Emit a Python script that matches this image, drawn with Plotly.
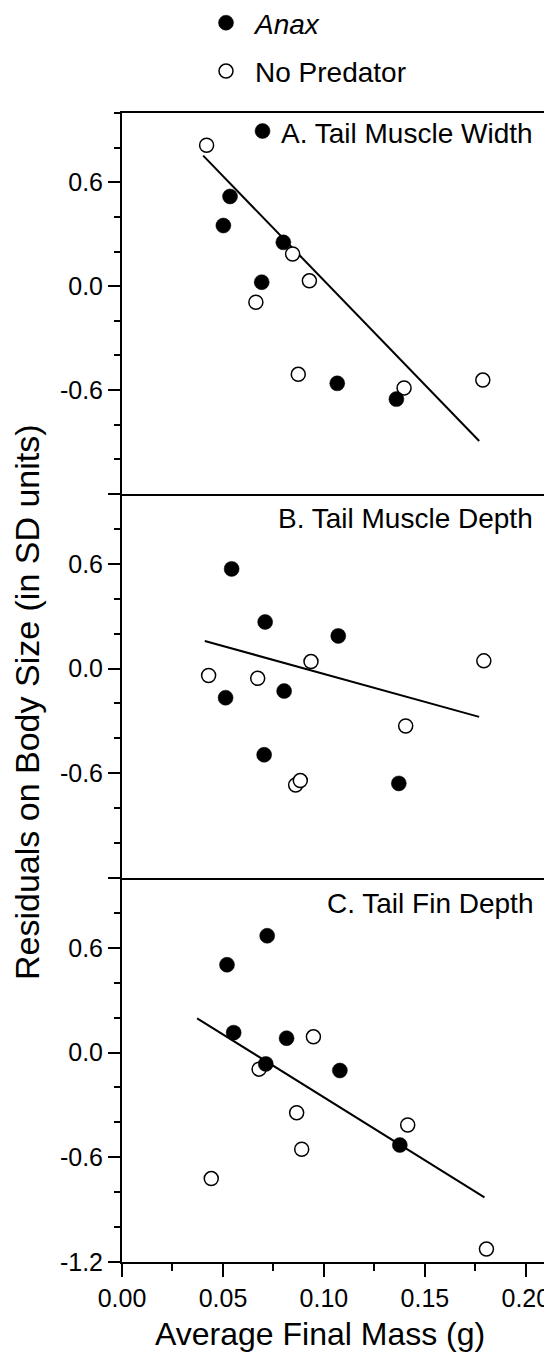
import plotly.graph_objects as go

# ---- data ----
panel_labels = ["A. Tail Muscle Width", "B. Tail Muscle Depth", "C. Tail Fin Depth"]

# Panel A
a_anax_x = [0.0696, 0.0535, 0.0502, 0.0799, 0.0692, 0.1066, 0.1359]
a_anax_y = [0.896, 0.518, 0.350, 0.253, 0.023, -0.561, -0.652]
a_nopred_x = [0.0419, 0.0845, 0.0928, 0.0663, 0.0873, 0.1397, 0.1787]
a_nopred_y = [0.814, 0.186, 0.031, -0.093, -0.509, -0.588, -0.542]
a_fit_x = [0.0402, 0.1769]
a_fit_y = [0.754, -0.894]

# Panel B
b_anax_x = [0.0543, 0.0709, 0.1071, 0.0803, 0.0513, 0.0704, 0.1371]
b_anax_y = [0.571, 0.267, 0.187, -0.129, -0.167, -0.494, -0.658]
b_nopred_x = [0.0429, 0.0672, 0.0936, 0.1792, 0.1405, 0.0860, 0.0883]
b_nopred_y = [-0.040, -0.056, 0.040, 0.044, -0.329, -0.667, -0.642]
b_fit_x = [0.0410, 0.1769]
b_fit_y = [0.158, -0.277]

# Panel C
c_anax_x = [0.0520, 0.0719, 0.0553, 0.0815, 0.0712, 0.1079, 0.1376]
c_anax_y = [0.503, 0.669, 0.114, 0.082, -0.065, -0.103, -0.530]
c_nopred_x = [0.0679, 0.0948, 0.0865, 0.0890, 0.1415, 0.0442, 0.1805]
c_nopred_y = [-0.095, 0.090, -0.345, -0.554, -0.415, -0.722, -1.126]
c_fit_x = [0.0372, 0.1795]
c_fit_y = [0.196, -0.830]

x_tickvals = [0.00, 0.05, 0.10, 0.15, 0.20]
x_ticktext = ["0.00", "0.05", "0.10", "0.15", "0.20"]
x_minor = [0.025, 0.075, 0.125, 0.175]
y_tickvals = [-1.2, -0.6, 0.0, 0.6]
y_ticktext_bottom = ["-1.2", "-0.6", "0.0", "0.6"]
y_ticktext_upper = ["", "-0.6", "0.0", "0.6"]
y_minor = [-1.0, -0.8, -0.4, -0.2, 0.2, 0.4, 0.8, 1.0]

panels = [
    (a_anax_x, a_anax_y, a_nopred_x, a_nopred_y, a_fit_x, a_fit_y),
    (b_anax_x, b_anax_y, b_nopred_x, b_nopred_y, b_fit_x, b_fit_y),
    (c_anax_x, c_anax_y, c_nopred_x, c_nopred_y, c_fit_x, c_fit_y),
]

# ---- layout geometry (page pixels; the page body has an 8px margin) ----
OFF = 8
W, H = 552 - OFF, 1359 - OFF
PL, PR, PT, PB = 122, 544, 113, 1262          # plot area in page pixels
ml, mr, mt, mb = PL - OFF, W - (PR - OFF), PT - OFF, H - (PB - OFF)
plot_w = W - ml - mr
plot_h = H - mt - mb
bounds_px = [113, 494, 878, 1262]
def py(p):  # page pixel -> paper y
    return ((PB - OFF) - (p - OFF)) / plot_h
def px(p):  # page pixel -> paper x
    return ((p - OFF) - ml) / plot_w

FONT = "Liberation Sans, Arial, Helvetica, sans-serif"

fig = go.Figure()

for i, (ax_, ay_, nx_, ny_, fx_, fy_) in enumerate(panels):
    xa = "x" if i == 0 else f"x{i+1}"
    ya = "y" if i == 0 else f"y{i+1}"
    fig.add_trace(go.Scatter(
        x=fx_, y=fy_, mode="lines", line=dict(color="black", width=2),
        xaxis=xa, yaxis=ya, showlegend=False, hoverinfo="skip"))
    fig.add_trace(go.Scatter(
        x=nx_, y=ny_, mode="markers", name="No Predator",
        marker=dict(symbol="circle", size=14, color="white",
                    line=dict(color="black", width=1.5)),
        xaxis=xa, yaxis=ya, showlegend=(i == 0), legendgroup="np",
        legendrank=2))
    fig.add_trace(go.Scatter(
        x=ax_, y=ay_, mode="markers", name="<i>Anax</i>",
        marker=dict(symbol="circle", size=15, color="black",
                    line=dict(color="black", width=0.5)),
        xaxis=xa, yaxis=ya, showlegend=(i == 0), legendgroup="anax",
        legendrank=1))

layout = dict(
    width=W, height=H,
    margin=dict(l=ml, r=mr, t=mt, b=mb, pad=0, autoexpand=False),
    paper_bgcolor="white", plot_bgcolor="white",
    font=dict(family=FONT, color="black", size=25),
    legend=dict(x=px(197), y=py(OFF - 10), xanchor="left", yanchor="top",
                font=dict(size=28, family=FONT, color="black"),
                itemwidth=48, tracegroupgap=9, bgcolor="rgba(0,0,0,0)",
                traceorder="grouped"),
)

for i in range(3):
    sx = "" if i == 0 else str(i + 1)
    top_px, bot_px = bounds_px[i], bounds_px[i + 1]
    dom = [py(bot_px), py(top_px)]
    bottom = (i == 2)
    layout["xaxis" + sx] = dict(
        domain=[0, 1], anchor="y" + sx, range=[0, 0.209],
        showline=True, linewidth=2, linecolor="black", mirror=(i == 0),
        showgrid=False, zeroline=False,
        tickvals=x_tickvals, ticktext=x_ticktext,
        ticks="outside" if bottom else "", ticklen=13, tickwidth=1.5, tickcolor="black",
        showticklabels=bottom,
        tickfont=dict(size=25, family=FONT, color="black"),
        minor=dict(tickvals=x_minor, ticks="outside" if bottom else "",
                   ticklen=7, tickwidth=1.5, tickcolor="black"),
    )
    layout["yaxis" + sx] = dict(
        domain=dom, anchor="x" + sx, range=[-1.2, 1.0],
        showline=True, linewidth=2, linecolor="black", mirror=True,
        showgrid=False, zeroline=False,
        tickvals=y_tickvals,
        ticktext=y_ticktext_bottom if bottom else y_ticktext_upper,
        ticks="outside", ticklen=12, tickwidth=1.5, tickcolor="black",
        tickfont=dict(size=25, family=FONT, color="black"),
        minor=dict(tickvals=y_minor, ticks="outside", ticklen=6,
                   tickwidth=1.5, tickcolor="black"),
    )

fig.update_layout(**layout)

label_y_px = [133, 518, 903]
annotations = []
for lab, ypx in zip(panel_labels, label_y_px):
    annotations.append(dict(
        text=lab, xref="paper", yref="paper", x=px(535), y=py(ypx),
        xanchor="right", yanchor="middle", showarrow=False,
        font=dict(size=28, family=FONT, color="black")))
annotations.append(dict(
    text="Residuals on Body Size (in SD units)", xref="paper", yref="paper",
    x=px(27), y=py(702), xanchor="center", yanchor="middle", textangle=-90,
    showarrow=False, font=dict(size=34, family=FONT, color="black")))
annotations.append(dict(
    text="Average Final Mass (g)", xref="paper", yref="paper",
    x=px(320), y=py(1334), xanchor="center", yanchor="middle",
    showarrow=False, font=dict(size=32, family=FONT, color="black")))
fig.update_layout(annotations=annotations)

fig.write_html("out.html")
